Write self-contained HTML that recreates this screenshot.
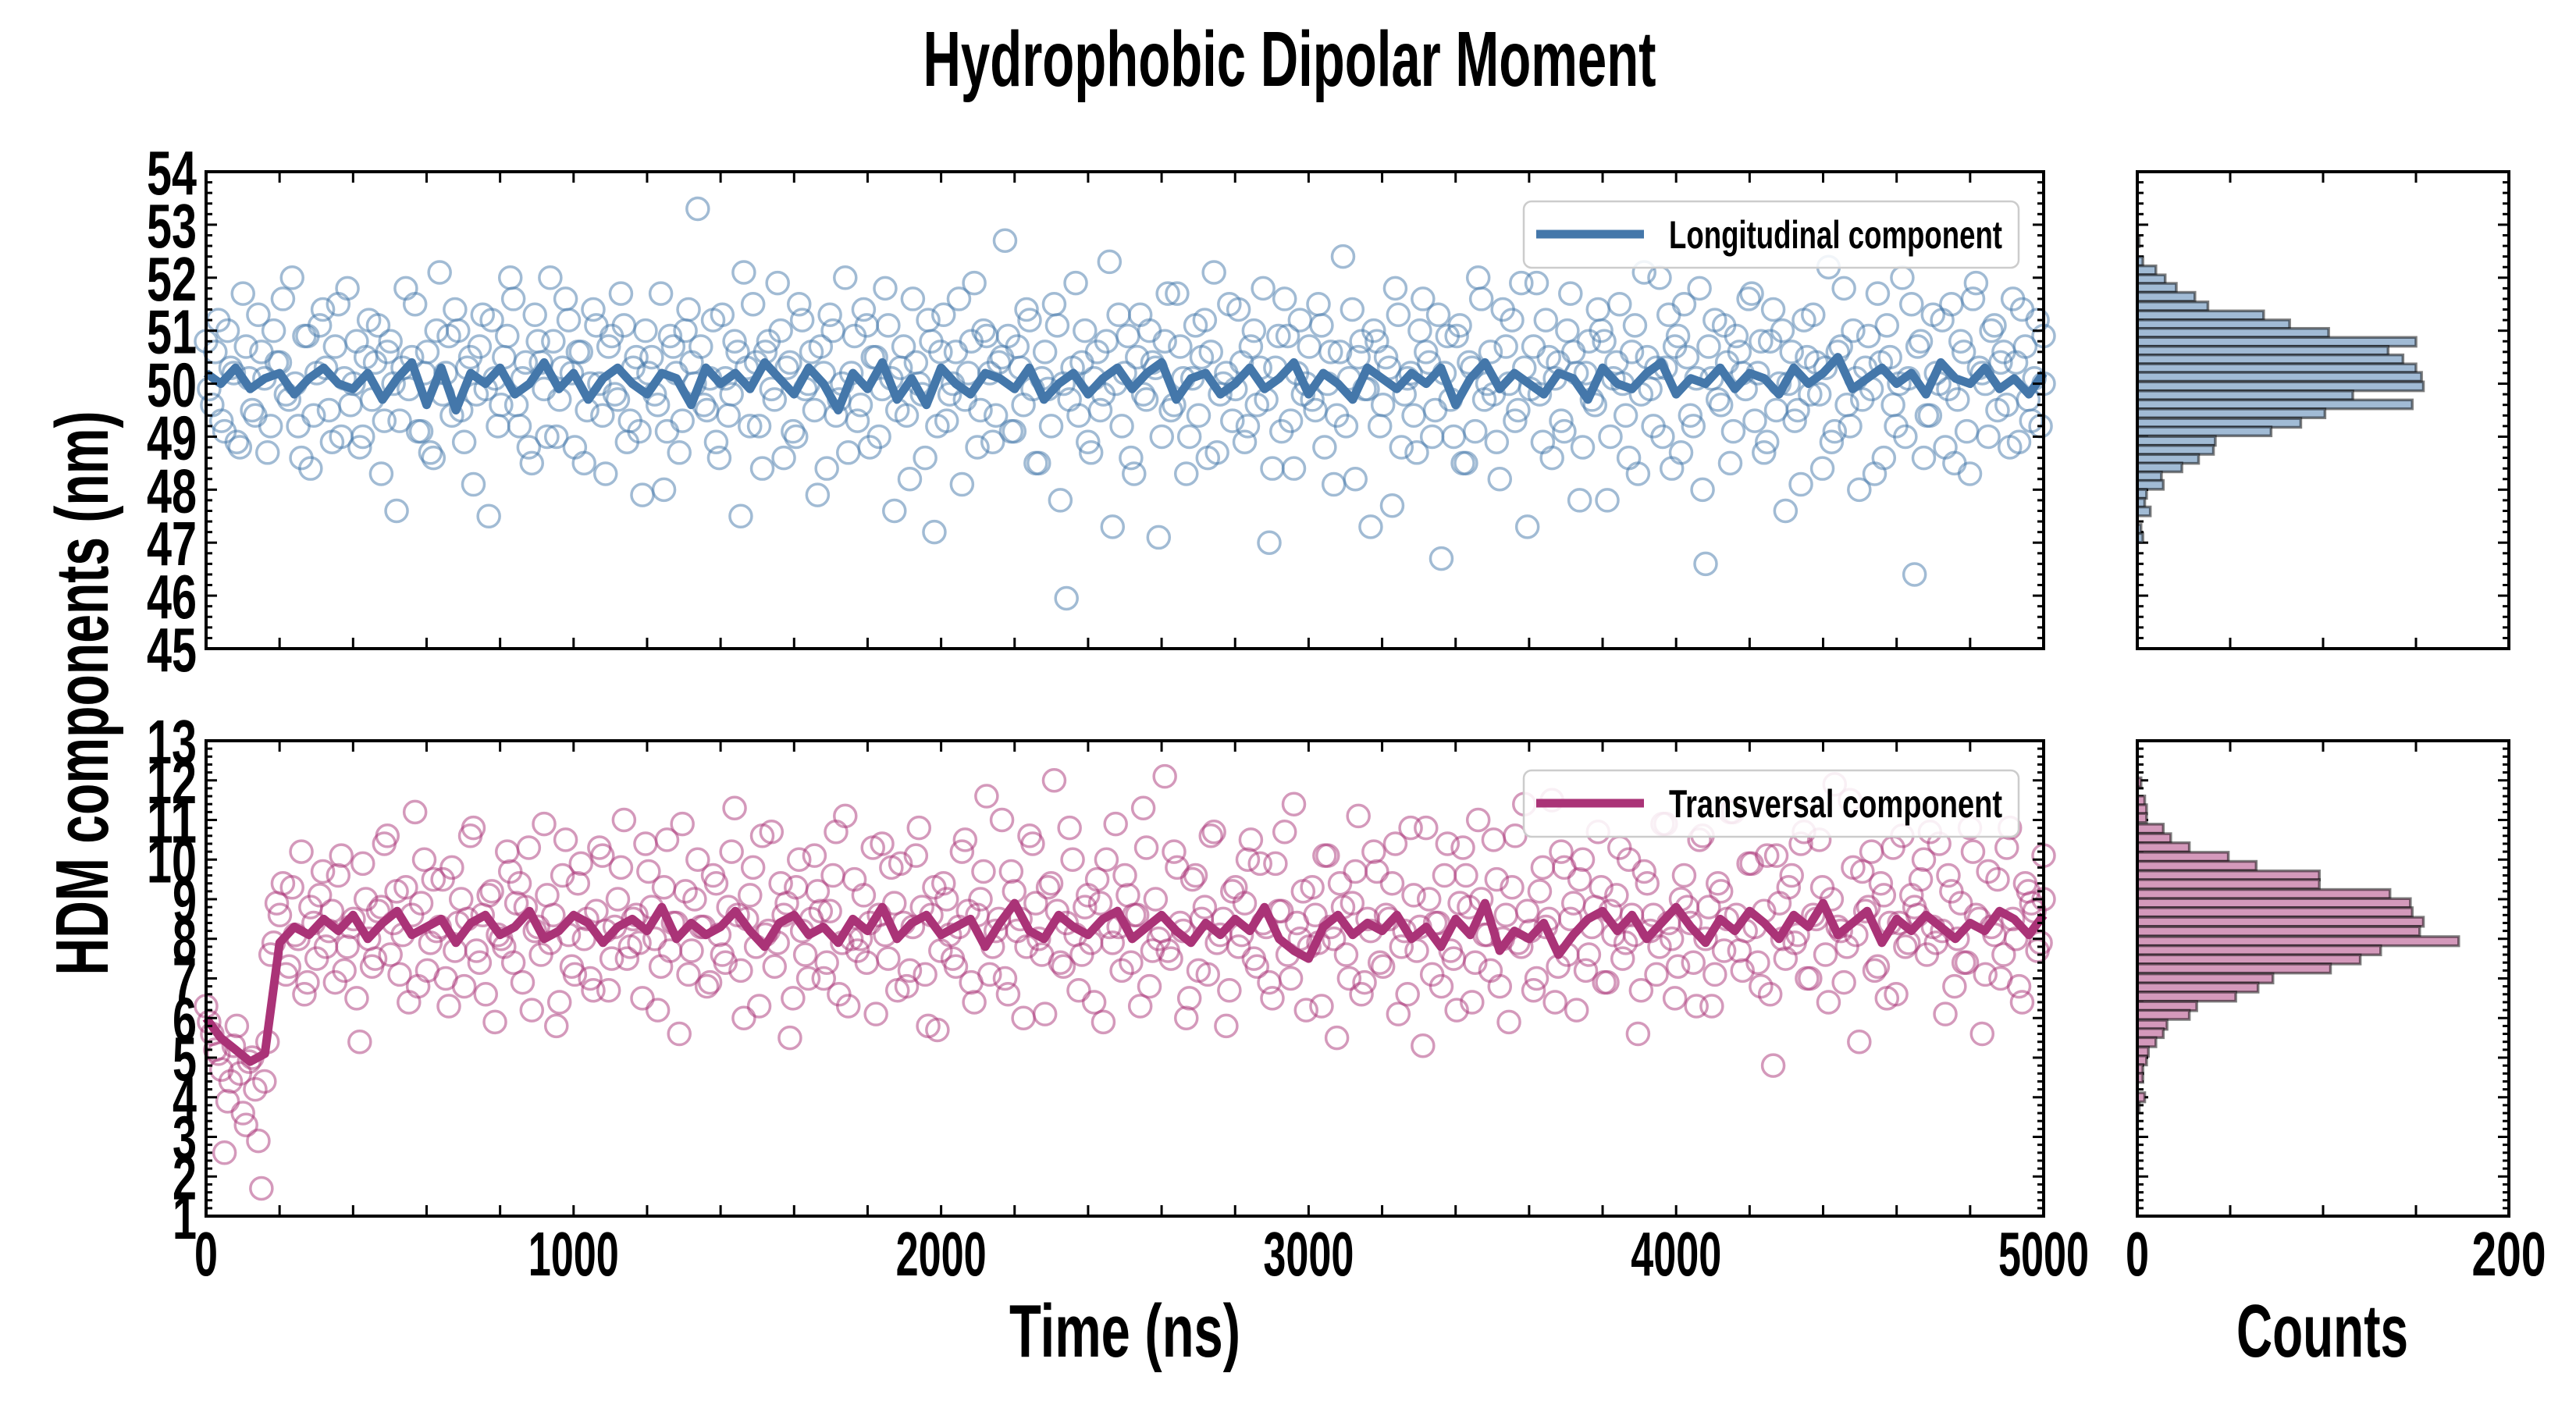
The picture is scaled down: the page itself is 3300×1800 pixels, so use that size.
<!DOCTYPE html>
<html><head><meta charset="utf-8"><style>
html,body{margin:0;padding:0;background:#fff;}
svg{display:block;}
text{font-family:"Liberation Sans Narrow","Liberation Sans",sans-serif;font-weight:bold;fill:#000;}
</style></head><body>
<svg id="chart" width="3300" height="1800" viewBox="0 0 3300 1800" xmlns="http://www.w3.org/2000/svg">
<text x="1652" y="110" font-size="100" text-anchor="middle" textLength="939" lengthAdjust="spacingAndGlyphs">Hydrophobic Dipolar Moment</text>
<text x="1441" y="1738" font-size="96" text-anchor="middle" textLength="296" lengthAdjust="spacingAndGlyphs">Time (ns)</text>
<text x="2975" y="1738" font-size="96" text-anchor="middle" textLength="220" lengthAdjust="spacingAndGlyphs">Counts</text>
<text transform="translate(138,888) rotate(-90)" font-size="96" text-anchor="middle" textLength="723" lengthAdjust="spacingAndGlyphs">HDM components (nm)</text>
<g id="layer"></g>
</svg>
<script>
// ---------- data ----------
const topScatter=[
50.8,49.6,51.2,49.1,50.3,48.9,51.7,50.1,49.4,50.6,
48.7,51.0,50.4,49.8,52.0,49.2,50.9,48.4,50.2,51.4,
49.5,50.7,49.0,51.8,50.0,48.8,50.5,49.7,51.1,49.3,
50.8,47.6,50.3,49.9,51.5,49.1,50.6,48.6,52.1,50.2,
49.4,51.0,48.9,50.5,49.8,51.3,47.5,50.1,49.6,50.9,
51.6,49.2,50.4,48.5,50.8,49.9,52.0,49.0,50.3,51.2,
48.8,50.6,49.5,51.4,50.0,48.3,50.9,49.7,51.1,49.3,
50.5,47.9,50.2,49.8,51.7,49.1,50.7,48.7,51.0,50.4,
53.3,49.6,50.1,48.9,51.3,49.4,50.8,47.5,50.3,51.5,
49.2,50.6,49.9,51.9,48.6,50.4,49.0,51.2,50.0,49.5,
50.7,48.4,51.0,49.7,52.0,50.2,49.3,51.4,48.8,50.5,
49.9,51.1,47.6,50.3,49.4,51.6,50.0,48.6,50.8,49.2,
51.3,49.8,50.6,48.1,50.2,51.9,49.5,50.9,48.9,50.4,
52.7,49.1,50.7,49.6,51.2,48.5,50.1,49.9,51.5,47.8,
45.95,50.3,49.4,51.0,48.7,50.6,49.8,52.3,50.0,49.2,
50.9,48.3,51.3,49.7,50.4,47.1,50.8,49.5,51.7,50.1,
49.0,51.1,50.5,48.6,52.1,49.8,50.2,49.3,51.4,48.9,
50.7,49.6,51.8,47.0,50.3,49.1,50.9,48.4,51.2,50.0,
49.7,51.5,48.8,50.6,49.4,52.4,50.1,48.2,50.8,49.9,
51.0,49.2,50.5,47.7,51.3,49.8,50.2,48.7,51.6,50.4,
49.5,46.7,50.9,49.0,51.1,48.5,50.3,52.0,49.7,50.6,
48.9,51.4,50.0,49.3,51.9,47.3,50.7,49.8,51.2,48.6,
50.4,49.1,51.7,50.2,48.8,50.8,49.6,51.0,47.8,50.1,
51.5,49.4,50.6,48.3,52.1,49.9,50.3,49.0,51.3,50.7,
48.7,50.5,49.2,51.8,46.6,50.1,49.7,51.1,48.5,50.9,
50.2,51.6,49.3,50.8,48.9,51.4,50.0,47.6,50.6,49.5,
51.2,49.8,50.4,48.4,52.2,49.1,50.7,49.6,51.0,48.0,
50.3,49.9,51.7,48.6,50.5,49.2,52.0,50.1,46.4,50.8,
49.4,51.3,50.0,48.8,51.5,49.7,50.6,48.3,51.9,50.2,
49.0,51.1,50.4,49.6,51.6,48.9,50.7,49.3,51.2,50.0];
const topScatter2=[
49.9,50.6,49.3,51.0,50.2,48.8,50.7,49.5,51.3,50.1,
49.2,50.4,51.6,49.7,50.0,48.6,50.9,49.4,51.1,50.3,
48.9,51.5,50.1,49.6,50.8,49.0,51.2,50.4,48.3,50.6,
50.0,49.3,51.8,50.5,49.1,50.2,48.7,51.0,49.8,50.9,
51.4,49.5,50.3,48.1,50.7,49.9,51.2,49.2,50.5,52.0,
49.6,50.1,48.8,51.3,50.4,49.0,50.8,49.7,51.6,50.2,
50.6,48.5,50.0,51.1,49.4,50.7,49.8,51.7,48.9,50.3,
49.1,51.0,50.5,49.6,48.0,50.9,50.2,49.3,51.4,50.0,
50.7,49.5,51.2,48.6,50.1,49.8,50.6,52.1,49.2,50.4,
48.4,50.8,49.7,51.0,50.3,49.1,51.5,49.9,50.6,47.9,
50.2,51.3,49.4,50.0,48.7,50.9,49.6,51.1,50.5,49.0,
51.8,50.1,49.5,50.7,48.2,50.4,49.8,51.2,47.2,50.6,
49.3,50.0,51.6,49.7,50.8,48.8,51.0,50.2,49.4,50.5,
50.9,49.1,50.3,51.4,49.9,48.5,50.6,49.2,51.1,50.0,
49.7,51.9,50.4,48.9,50.1,49.5,50.8,47.3,51.3,50.2,
48.6,50.5,49.8,51.0,50.3,49.0,51.7,49.6,50.7,48.3,
50.1,49.4,51.2,50.6,48.7,50.0,51.5,49.9,50.4,49.2,
51.0,50.3,49.7,48.4,50.9,51.6,49.3,50.2,49.8,50.7,
49.5,51.1,50.0,48.1,50.6,49.2,51.4,50.5,49.9,47.3,
50.8,49.6,50.3,51.8,48.8,50.1,49.4,51.0,50.6,49.0,
51.3,50.2,49.7,50.9,48.5,50.4,49.1,51.6,50.0,49.8,
48.2,50.7,51.2,49.5,50.3,49.9,51.9,48.9,50.5,50.1,
49.3,51.0,50.6,47.8,50.2,49.7,51.4,50.8,49.0,50.4,
50.0,48.6,51.1,49.8,50.5,49.2,52.0,50.3,48.4,50.9,
51.5,49.4,50.1,48.0,50.7,51.2,49.6,50.4,49.1,50.6,
49.9,51.7,50.2,48.7,50.8,49.5,51.0,50.0,49.3,48.1,
50.5,51.3,49.8,50.3,48.9,50.6,51.8,49.2,50.1,49.7,
50.9,48.3,50.4,51.1,49.6,50.0,49.0,51.5,50.7,48.6,
49.4,50.2,51.2,49.9,48.5,50.8,49.1,51.6,50.3,50.0,
51.0,49.5,50.6,48.8,50.4,51.4,49.7,50.1,49.2,50.9];
const topMean=[
50.2,50.0,50.3,49.9,50.1,50.2,49.8,50.1,50.3,50.0,
49.9,50.2,49.7,50.1,50.4,49.6,50.3,49.5,50.2,50.0,
50.3,49.8,50.0,50.4,49.9,50.2,49.7,50.1,50.3,50.0,
49.8,50.2,50.1,49.6,50.3,50.0,50.2,49.9,50.4,50.1,
49.8,50.3,50.0,49.5,50.2,49.9,50.4,49.7,50.1,49.6,
50.3,50.0,49.8,50.2,50.1,49.9,50.3,49.7,50.0,50.2,
49.8,50.1,50.3,49.9,50.2,50.4,49.7,50.1,50.2,49.8,
50.0,50.3,49.9,50.1,50.4,49.8,50.2,50.0,49.7,50.3,
50.1,49.9,50.2,50.0,50.3,49.6,50.1,50.4,49.9,50.2,
50.0,49.8,50.2,50.1,49.7,50.3,50.0,49.9,50.2,50.4,
49.8,50.1,50.0,50.3,49.9,50.2,50.1,49.8,50.3,50.0,
50.2,50.5,49.9,50.1,50.3,50.0,50.2,49.8,50.4,50.1,
50.0,50.3,49.9,50.1,49.8,50.2];
const botScatter=[
6.3,5.6,5.1,2.6,4.4,5.8,3.6,4.9,4.2,1.7,
5.4,7.9,8.6,7.1,9.3,8.0,6.6,8.8,7.5,9.7,
8.2,6.9,10.1,7.8,8.5,5.4,9.0,7.3,8.7,10.4,
7.6,9.2,8.1,6.4,11.2,8.9,7.2,9.5,8.3,7.0,
9.8,8.4,6.8,10.6,7.7,8.6,9.1,5.9,8.0,10.2,
7.4,9.4,8.8,6.2,8.3,10.9,7.9,5.8,9.6,8.1,
7.1,9.9,8.5,6.7,10.3,8.2,7.5,9.0,11.0,7.8,
8.6,6.5,9.7,8.0,7.3,10.5,8.4,5.6,9.2,7.7,
10.0,8.3,6.9,9.4,7.6,8.8,11.3,7.2,8.5,9.8,
6.3,8.1,10.7,7.9,8.6,5.5,9.3,8.2,7.0,10.1,
8.7,7.4,9.6,6.6,11.1,8.0,7.7,9.1,8.4,6.1,
10.4,7.5,8.9,9.9,6.8,8.3,10.8,7.1,8.6,5.7,
9.4,8.1,7.3,10.2,8.7,6.4,9.0,11.6,7.8,8.5,
7.0,9.7,8.2,6.0,10.6,8.9,7.6,9.3,12.0,7.4,
8.4,10.0,6.7,8.8,7.9,9.5,5.9,8.3,10.9,7.2,
9.1,8.6,6.3,10.3,7.7,8.0,12.1,7.5,9.8,8.2,
6.5,9.6,8.5,7.1,10.7,8.1,5.8,9.2,7.8,8.9,
10.5,7.3,8.4,6.9,9.9,8.7,7.6,11.4,8.0,6.2,
9.3,7.9,10.1,8.3,5.5,8.8,7.0,9.7,6.6,8.5,
10.2,7.4,8.6,9.4,6.1,8.2,10.8,7.7,5.3,9.0,
8.4,6.8,10.4,7.5,8.9,9.6,6.4,11.0,8.1,7.2,
9.5,8.0,5.9,10.6,7.8,8.7,6.7,9.2,8.3,11.5,
7.3,9.8,8.5,6.2,10.0,7.6,8.8,9.3,6.9,8.1,
10.3,7.9,8.6,5.6,9.7,8.2,7.1,10.9,8.4,6.5,
9.0,8.8,7.4,10.5,8.0,6.3,9.4,7.7,11.2,8.6,
7.2,9.9,8.3,6.8,10.1,4.8,8.9,7.5,9.6,8.1,
10.7,7.0,8.5,9.3,6.4,11.9,8.2,7.8,9.8,5.4,
8.7,10.2,7.3,9.1,8.4,6.6,10.6,7.9,8.8,9.5,
7.6,8.3,10.4,6.1,9.2,8.0,7.4,10.8,8.6,5.6,
9.7,8.1,7.0,10.3,8.5,6.8,9.4,8.9,7.7,9.0];
const botScatter2=[
5.9,5.2,4.7,3.9,5.3,4.6,3.3,5.0,2.9,4.4,
7.6,8.9,9.4,7.3,8.1,10.2,6.9,8.4,9.1,7.8,
8.7,9.6,7.2,8.3,6.5,9.9,8.0,7.5,8.8,10.6,
8.4,7.1,9.3,8.6,6.8,10.0,7.9,8.2,9.5,6.3,
7.7,9.0,8.5,10.8,7.4,6.6,9.2,8.1,7.8,9.7,
8.9,6.9,10.3,8.2,7.6,9.1,8.6,6.4,10.5,7.3,
9.4,8.0,7.0,8.7,10.1,6.7,8.3,9.8,7.5,8.5,
7.9,10.4,8.8,6.2,9.3,7.7,8.4,10.9,7.1,9.0,
8.3,6.8,9.6,8.1,7.4,10.2,8.6,6.0,9.1,7.8,
10.6,8.2,7.3,9.4,8.9,6.5,10.0,7.6,8.5,9.2,
7.0,8.7,10.7,7.9,6.3,9.5,8.0,7.4,10.3,8.6,
8.1,9.8,6.7,8.4,7.2,10.1,8.8,5.8,9.3,7.7,
9.0,7.5,8.3,10.5,6.9,8.6,9.7,7.1,8.2,11.0,
6.6,9.2,8.5,7.8,10.4,8.0,6.1,9.4,8.7,7.3,
10.8,8.1,7.6,9.1,6.4,8.9,10.0,7.9,8.3,9.6,
7.4,8.6,11.3,6.8,9.0,8.2,7.7,10.2,8.4,6.0,
9.5,7.2,8.8,10.6,7.9,8.5,6.7,9.3,8.1,10.0,
7.5,9.9,8.3,6.5,8.7,10.7,7.0,8.4,9.2,7.8,
8.6,6.3,10.1,8.0,9.4,7.6,8.9,11.1,6.9,8.2,
9.7,7.3,8.5,10.4,7.8,6.6,9.1,8.3,10.8,7.1,
8.4,9.6,7.7,6.2,10.3,8.8,7.4,9.0,8.1,10.5,
6.8,8.6,9.3,7.9,11.4,8.2,7.0,9.8,8.5,6.4,
10.2,7.6,8.9,9.5,7.2,8.3,10.7,6.9,8.7,9.1,
7.5,10.0,8.1,6.7,9.4,8.6,7.8,10.9,8.0,7.3,
9.6,8.4,6.3,10.6,8.8,7.1,9.2,8.5,11.2,7.7,
8.2,9.9,7.4,8.7,6.6,10.1,8.0,9.3,7.9,10.4,
7.0,8.6,10.5,7.6,9.0,8.3,6.9,11.5,8.1,9.7,
8.8,7.2,9.4,6.5,10.3,8.4,7.8,9.1,8.6,10.0,
10.7,7.9,8.2,9.6,6.8,8.9,7.4,10.2,8.5,7.1,
8.3,9.5,7.6,10.8,8.0,6.4,9.2,8.7,7.9,10.1];
const botMean=[
6.0,5.5,5.2,4.9,5.1,7.9,8.3,8.1,8.5,8.2,
8.6,8.0,8.4,8.7,8.1,8.3,8.5,7.9,8.4,8.6,
8.1,8.3,8.7,8.0,8.2,8.6,8.4,7.9,8.3,8.5,
8.2,8.8,8.0,8.4,8.1,8.3,8.7,8.2,7.8,8.4,
8.6,8.1,8.3,7.9,8.5,8.2,8.8,8.0,8.4,8.6,
8.1,8.3,8.5,7.8,8.4,8.9,8.2,8.0,8.6,8.3,
8.1,8.5,8.7,8.0,8.3,8.6,8.2,7.9,8.4,8.1,
8.5,8.2,8.8,8.0,7.7,7.5,8.3,8.6,8.1,8.4,
8.2,8.6,8.0,8.3,7.8,8.5,8.1,8.9,7.7,8.2,
8.0,8.4,7.6,8.1,8.5,8.7,8.2,8.6,8.0,8.4,
8.8,8.3,7.9,8.5,8.2,8.7,8.4,8.0,8.6,8.3,
8.9,8.1,8.4,8.7,7.9,8.5,8.2,8.6,8.3,8.0,
8.4,8.2,8.7,8.5,8.1,8.6];
const topHistCenters=[52.67,52.31,52.14,51.97,51.81,51.64,51.46,51.29,51.12,50.96,50.79,50.62,50.46,50.29,50.13,49.95,49.78,49.61,49.44,49.26,49.10,48.92,48.75,48.58,48.42,48.25,48.09,47.92,47.75,47.59,47.26,47.09];
const topHistCounts=[1,3,10,15,21,31,38,68,82,103,150,135,143,150,153,154,116,148,101,88,72,42,41,33,24,13,14,5,4,7,2,3];
const botHistCenters=[11.95,11.49,11.27,11.05,10.78,10.54,10.31,10.07,9.84,9.60,9.38,9.13,8.90,8.67,8.43,8.19,7.94,7.71,7.48,7.25,7.00,6.77,6.54,6.30,6.08,5.83,5.62,5.39,5.15,4.93,4.71,4.49,4.00,3.73];
const botHistCounts=[2,4,5,5,14,18,28,49,64,98,98,136,147,148,154,152,173,131,120,104,73,65,53,32,28,16,14,10,6,5,3,3,4,1];
const xTickLabels=["0","1000","2000","3000","4000","5000"];
const topYTicks=[45,46,47,48,49,50,51,52,53,54];
const botYTicks=[1,2,3,4,5,6,7,8,9,10,11,12,13];
const histXTickLabels=["0","200"];

// ---------- layout ----------
const NS="http://www.w3.org/2000/svg";
const layer=document.getElementById('layer');
const MX0=264,MX1=2618,HX0=2738,HX1=3214;
const TOP={y0:220,y1:831,min:45,max:54};
const BOT={y0:949,y1:1558,min:1,max:13};
const xs=t=>MX0+(t/5000)*(MX1-MX0);
const hxs=c=>HX0+(c/200)*(HX1-HX0);
const ys=(p,v)=>p.y1-(v-p.min)/(p.max-p.min)*(p.y1-p.y0);
function mk(tag,attrs,parent){const e=document.createElementNS(NS,tag);for(const k in attrs)e.setAttribute(k,attrs[k]);(parent||layer).appendChild(e);return e;}

function panel(p,scatters,mean,color,hc,hcnt,binW,fill,yTicks,name,legendText,showXLabels){
  const g=mk('g',{});
  
  
  scatters.forEach((scatter,si)=>{
    const n=scatter.length;
    scatter.forEach((v,i)=>{
      const t=Math.min(5000,i*5000/(n-1)+si*8.4);
      const c=mk('circle',{cx:xs(t),cy:ys(p,v),r:14,fill:'none',stroke:color,'stroke-opacity':0.5,'stroke-width':3.5},g);
      
      
    });
  });
  const pts=mean.map((v,i)=>xs(i*5000/(mean.length-1)).toFixed(1)+','+ys(p,v).toFixed(1)).join(' ');
  const pl=mk('polyline',{points:pts,fill:'none',stroke:color,'stroke-width':11,'stroke-linejoin':'round'},g);
  
  
  const fr=mk('rect',{x:MX0,y:p.y0,width:MX1-MX0,height:p.y1-p.y0,fill:'none',stroke:'#000','stroke-width':4},g);
  
  
  for(let t=0;t<=5000;t+=200){const x=xs(t);
    mk('line',{x1:x,y1:p.y1,x2:x,y2:p.y1-14,stroke:'#000','stroke-width':3},g);
    mk('line',{x1:x,y1:p.y0,x2:x,y2:p.y0+14,stroke:'#000','stroke-width':3},g);}
  for(let v=p.min;v<=p.max+1e-6;v+=0.2){const y=ys(p,v);const major=Math.abs(v-Math.round(v))<1e-6;const L=major?14:8;
    mk('line',{x1:MX0,y1:y,x2:MX0+L,y2:y,stroke:'#000','stroke-width':3},g);
    mk('line',{x1:MX1,y1:y,x2:MX1-L,y2:y,stroke:'#000','stroke-width':3},g);
    mk('line',{x1:HX0,y1:y,x2:HX0+L,y2:y,stroke:'#000','stroke-width':3},g);
    mk('line',{x1:HX1,y1:y,x2:HX1-L,y2:y,stroke:'#000','stroke-width':3},g);}
  yTicks.forEach(v=>{const s=String(v);
    const t=mk('text',{x:252,y:ys(p,v)+29,'font-size':80,'text-anchor':'end',textLength:s.length>1?64:31,lengthAdjust:'spacingAndGlyphs'},g);
    t.textContent=s;
    
    });
  if(showXLabels){xTickLabels.forEach((s,i)=>{
    const t=mk('text',{x:xs(i*1000),y:1634,'font-size':80,'text-anchor':'middle',textLength:s.length>1?116:30,lengthAdjust:'spacingAndGlyphs'},g);
    t.textContent=s;
    
    });}
  const lw=legendText.length>22?647:634;
  const lb=mk('rect',{x:MX1-32-lw,y:p.y0+38,width:lw,height:85,rx:10,fill:'#fff','fill-opacity':0.85,stroke:'#ccc','stroke-width':2.5},g);
  
  
  const lx=MX1-32-lw+16;
  mk('line',{x1:lx,y1:p.y0+80,x2:lx+138,y2:p.y0+80,stroke:color,'stroke-width':11},g);
  const lt=mk('text',{x:MX1-53,y:p.y0+98,'font-size':50,'text-anchor':'end',textLength:legendText.length>22?440:427,lengthAdjust:'spacingAndGlyphs'},g);
  lt.textContent=legendText;
  
  
  const hg=mk('g',{},g);
  
  
  const bh=binW/(p.max-p.min)*(p.y1-p.y0);
  hc.forEach((c,i)=>{
    const r=mk('rect',{x:HX0,y:ys(p,c)-bh/2,width:hxs(hcnt[i])-HX0,height:bh,fill:fill,stroke:'#000','stroke-opacity':0.5,'stroke-width':3.5},hg);
    
    
  });
  const hf=mk('rect',{x:HX0,y:p.y0,width:HX1-HX0,height:p.y1-p.y0,fill:'none',stroke:'#000','stroke-width':4},g);
  
  
  for(let c=50;c<200;c+=50){const x=hxs(c);
    mk('line',{x1:x,y1:p.y1,x2:x,y2:p.y1-14,stroke:'#000','stroke-width':3},g);
    mk('line',{x1:x,y1:p.y0,x2:x,y2:p.y0+14,stroke:'#000','stroke-width':3},g);}
  if(showXLabels){histXTickLabels.forEach(s=>{
    const t=mk('text',{x:hxs(Number(s)),y:1634,'font-size':80,'text-anchor':'middle',textLength:s.length>1?95:30,lengthAdjust:'spacingAndGlyphs'},g);
    t.textContent=s;
    
    });}
}
panel(TOP,[topScatter,topScatter2],topMean,'#4477aa',topHistCenters,topHistCounts,0.167,'#a1bbd5',topYTicks,'longitudinal','Longitudinal component',false);
panel(BOT,[botScatter,botScatter2],botMean,'#aa3377',botHistCenters,botHistCounts,0.23,'#d499bb',botYTicks,'transversal','Transversal component',true);
</script>
</body></html>
